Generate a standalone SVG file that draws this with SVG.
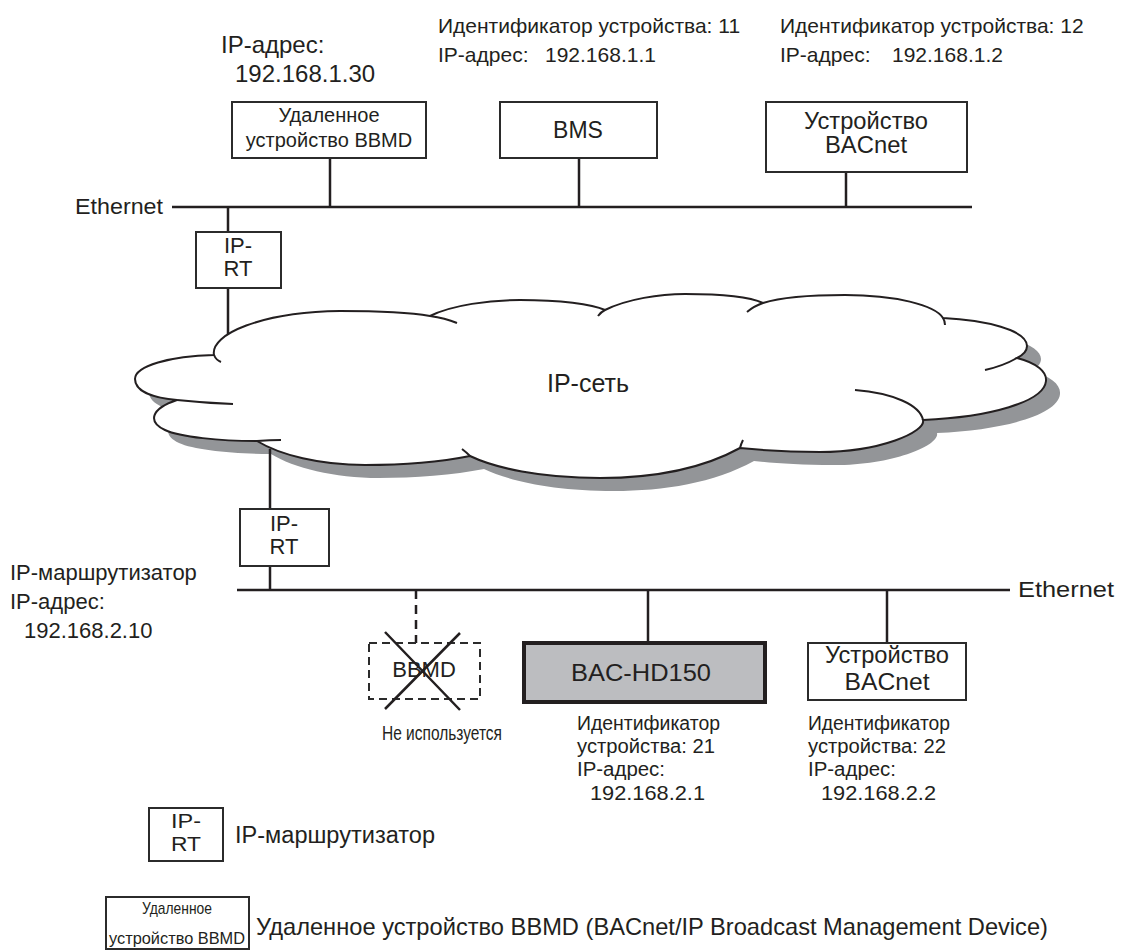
<svg xmlns="http://www.w3.org/2000/svg" width="1121" height="951" viewBox="0 0 1121 951">
<defs>
<style>
text{font-family:"Liberation Sans",Arial,sans-serif;fill:#231f20;}
.box{fill:#fff;stroke:#2b2b2b;stroke-width:2;}
.ln{stroke:#231f20;stroke-width:2.5;fill:none;}
.tk{stroke:#231f20;stroke-width:2;fill:none;}
.c{text-anchor:middle;}
</style>
<path id="cloudShape" d="M214,355 C210,334 262,312 340,311 C383,311 413,313 430,316 C452,305 490,300 520,300 C560,300 592,304 605,310 C627,299 660,294 685,294 C720,294 750,297 763,303 C782,297 812,295 845,295 C895,295 935,305 943,318 C985,320 1027,330 1027,346 C1027,351 1023,355 1017,358 C1037,363 1047,372 1046,381 C1044,402 990,417 923,420 C926,432 880,452 820,452 C785,452 760,450 740,448 C700,470 650,478 600,478 C540,478 495,468 470,456 C440,462 400,465 365,465 C320,465 280,455 257,441 C220,441 180,437 165,430 C148,422 150,409 177,400 C155,398 135,392 135,379 C135,366 170,356 214,355 Z"/>
</defs>
<rect width="1121" height="951" fill="#fff"/>

<g id="connectors">
<path class="ln" d="M172,207 H972"/>
<path class="ln" d="M330,158 V207"/>
<path class="ln" d="M579,158 V207"/>
<path class="ln" d="M846,172 V207"/>
<path class="ln" d="M228,207 V232 M228,288 V334"/>
<path class="ln" d="M270,566 V590"/>
<path class="ln" d="M237,590 H1010"/>
<path class="ln" d="M416,590 V643" stroke-dasharray="9,6"/>
<path class="ln" d="M648,590 V642"/>
<path class="ln" d="M887,590 V642"/>
</g>

<g id="cloud">
<use href="#cloudShape" transform="translate(14,13)" fill="#939598"/>
<use href="#cloudShape" fill="#fff" stroke="#231f20" stroke-width="2"/>
<path class="tk" d="M214,355 Q216,360 221,362 M430,316 Q445,318 457,323 M605,310 Q601,312 598,316 M763,303 Q754,306 747,312 M943,318 Q945,321 945,325 M1017,358 Q1003,366 985,370 M923,420 C920,405 893,393 855,390 M740,448 Q741,444 743,440 M470,456 Q466,452 462,449 M257,441 Q270,440 281,440 M177,400 Q205,403 233,404"/>
<text x="588" y="392" class="c" font-size="25">IP-сеть</text>
<path class="ln" d="M270,449 V509"/>
</g>

<g id="label-eth-top"><text x="75" y="214" font-size="22" textLength="88" lengthAdjust="spacingAndGlyphs">Ethernet</text></g>
<g id="label-eth-bottom"><text x="1018" y="597" font-size="22" textLength="96" lengthAdjust="spacingAndGlyphs">Ethernet</text></g>

<g id="bbmd-remote">
<text x="221" y="53" font-size="24">IP-адрес:</text>
<text x="235" y="82" font-size="24">192.168.1.30</text>
<rect class="box" x="232" y="102" width="194" height="56"/>
<text x="329" y="122" class="c" font-size="20">Удаленное</text>
<text x="329" y="147" class="c" font-size="20">устройство BBMD</text>
</g>

<g id="bms">
<text x="438" y="33" font-size="21">Идентификатор устройства: 11</text>
<text x="438" y="62" font-size="21">IP-адрес:</text>
<text x="545" y="62" font-size="21">192.168.1.1</text>
<rect class="box" x="500" y="102" width="157" height="56"/>
<text x="578" y="138" class="c" font-size="23">BMS</text>
</g>

<g id="bacnet-top">
<text x="780" y="33" font-size="21">Идентификатор устройства: 12</text>
<text x="780" y="62" font-size="21">IP-адрес:</text>
<text x="892" y="62" font-size="21">192.168.1.2</text>
<rect class="box" x="766" y="102" width="201" height="70"/>
<text x="866" y="129" class="c" font-size="23" textLength="124" lengthAdjust="spacingAndGlyphs">Устройство</text>
<text x="866" y="153" class="c" font-size="23" textLength="82" lengthAdjust="spacingAndGlyphs">BACnet</text>
</g>

<g id="iprt-top">
<rect class="box" x="196" y="232" width="85" height="56"/>
<text x="238" y="253" class="c" font-size="22">IP-</text>
<text x="238" y="276" class="c" font-size="22">RT</text>
</g>

<g id="iprt-bottom">
<rect class="box" x="240" y="509" width="89" height="57"/>
<text x="284" y="531" class="c" font-size="22">IP-</text>
<text x="284" y="554" class="c" font-size="22">RT</text>
<text x="10" y="580" font-size="22">IP-маршрутизатор</text>
<text x="10" y="609" font-size="22">IP-адрес:</text>
<text x="24" y="638" font-size="22">192.168.2.10</text>
</g>

<g id="bbmd-unused">
<rect x="369" y="643" width="111" height="56" fill="#fff" stroke="#2b2b2b" stroke-width="2" stroke-dasharray="8,5"/>
<text x="424" y="677" class="c" font-size="22">BBMD</text>
<path class="ln" d="M385,632 L460,710 M460,633 L385,709"/>
<text x="442" y="740" class="c" font-size="21" textLength="120" lengthAdjust="spacingAndGlyphs">Не используется</text>
</g>

<g id="bac-hd150">
<rect x="524" y="643" width="241" height="59" fill="#bcbdc0" stroke="#231f20" stroke-width="4"/>
<text x="641" y="681" class="c" font-size="24" textLength="140" lengthAdjust="spacingAndGlyphs">BAC-HD150</text>
<text x="577" y="730" font-size="20" textLength="143" lengthAdjust="spacingAndGlyphs">Идентификатор</text>
<text x="577" y="753" font-size="20" textLength="138" lengthAdjust="spacingAndGlyphs">устройства: 21</text>
<text x="577" y="776" font-size="20" textLength="88" lengthAdjust="spacingAndGlyphs">IP-адрес:</text>
<text x="590" y="800" font-size="20" textLength="115" lengthAdjust="spacingAndGlyphs">192.168.2.1</text>
</g>

<g id="bacnet-bottom">
<rect class="box" x="808" y="643" width="158" height="57"/>
<text x="887" y="663" class="c" font-size="23" textLength="124" lengthAdjust="spacingAndGlyphs">Устройство</text>
<text x="887" y="690" class="c" font-size="23" textLength="85" lengthAdjust="spacingAndGlyphs">BACnet</text>
<text x="808" y="730" font-size="20" textLength="142" lengthAdjust="spacingAndGlyphs">Идентификатор</text>
<text x="808" y="753" font-size="20" textLength="138" lengthAdjust="spacingAndGlyphs">устройства: 22</text>
<text x="808" y="776" font-size="20" textLength="88" lengthAdjust="spacingAndGlyphs">IP-адрес:</text>
<text x="821" y="800" font-size="20" textLength="115" lengthAdjust="spacingAndGlyphs">192.168.2.2</text>
</g>

<g id="legend-iprt">
<rect class="box" x="149" y="808" width="74" height="53"/>
<text x="186" y="828" class="c" font-size="20" textLength="30" lengthAdjust="spacingAndGlyphs">IP-</text>
<text x="186" y="851" class="c" font-size="20" textLength="30" lengthAdjust="spacingAndGlyphs">RT</text>
<text x="235" y="843" font-size="23" textLength="200" lengthAdjust="spacingAndGlyphs">IP-маршрутизатор</text>
</g>

<g id="legend-bbmd">
<rect class="box" x="106" y="897" width="143" height="52"/>
<text x="177" y="914" class="c" font-size="17" textLength="70" lengthAdjust="spacingAndGlyphs">Удаленное</text>
<text x="177" y="944" class="c" font-size="17" textLength="136" lengthAdjust="spacingAndGlyphs">устройство BBMD</text>
<text x="256" y="935" font-size="24" textLength="792" lengthAdjust="spacingAndGlyphs">Удаленное устройство BBMD (BACnet/IP Broadcast Management Device)</text>
</g>
</svg>
